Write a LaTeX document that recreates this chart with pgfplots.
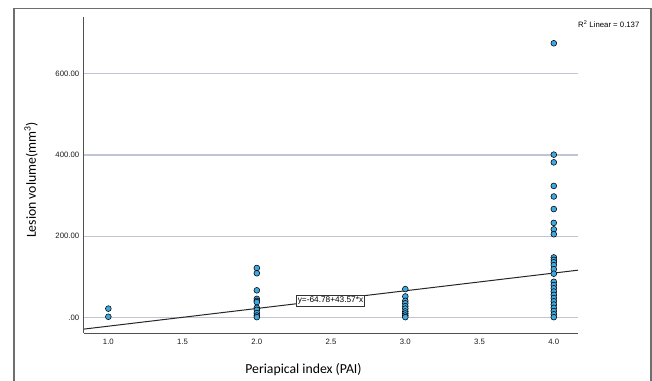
\documentclass[border=0pt]{standalone}
\usepackage{fontspec}
\setmainfont{Liberation Sans}
\newfontfamily\titlefont{Carlito}
\usepackage{pgfplots}
\pgfplotsset{compat=1.18}
\definecolor{ptblue}{RGB}{62,168,224}
\definecolor{gridcol}{RGB}{192,197,212}
\definecolor{axisgray}{RGB}{80,80,80}
\definecolor{framecol}{RGB}{110,110,110}
\begin{document}
\begin{tikzpicture}
\begin{axis}[
  name=ax,
  at={(0,0)}, anchor=south west,
  scale only axis, width=494bp, height=315.7bp,
  xmin=0.836, xmax=4.163, ymin=-38, ymax=739,
  axis x line*=bottom, axis y line*=left,
  axis line style={draw=axisgray, line width=1bp, -},
  xtick={1,1.5,2,2.5,3,3.5,4},
  xticklabels={1.0,1.5,2.0,2.5,3.0,3.5,4.0},
  ytick={0,200,400,600},
  yticklabels={.00,200.00,400.00,600.00},
  ymajorgrids, grid style={gridcol, line width=1.2bp},
  major tick length=0pt,
  tick label style={font=\fontsize{7.8}{9}\selectfont, text=black!90},
  xticklabel style={anchor=north, inner sep=0pt, yshift=-6bp},
  yticklabel style={anchor=east, inner sep=0pt, xshift=-4.6bp},
  xlabel={Periapical index (PAI)},
  ylabel={Lesion volume(mm\textsuperscript{3})},
  label style={font=\titlefont\fontsize{13.8}{16}\selectfont},
  xlabel style={at={(axis description cs:0.4443,-0.1172)}, anchor=center},
  ylabel style={at={(axis description cs:-0.1073,0.4846)}, anchor=center},
]
\addplot[black!85, line width=1bp] coordinates {(0.836,-28.36) (4.163,116.60)};
\addplot[only marks, mark=*, mark size=2.9bp, mark options={fill=ptblue, draw=black, line width=0.55bp}] coordinates {
(1,2) (1,22)
(2,122) (2,109) (2,67) (2,46) (2,41) (2,38) (2,24) (2,19) (2,11) (2,5) (2,1)
(3,70) (3,52) (3,41) (3,35) (3,28) (3,22) (3,15) (3,10) (3,5) (3,1)
(4,675) (4,401) (4,382) (4,324) (4,298) (4,267) (4,233) (4,217) (4,205)
(4,148) (4,142) (4,136) (4,129) (4,119) (4,108)
(4,88) (4,80) (4,72) (4,64) (4,56) (4,48) (4,40) (4,32) (4,24) (4,16) (4,8) (4,1)
};
\end{axis}
\node[draw=black!80, fill=white, inner sep=1.7bp, line width=0.7bp, font=\fontsize{8.3}{9.6}\selectfont] at (ax.south west) [xshift=246.5bp, yshift=32.1bp] {y=-64.78+43.57*x};
\node[anchor=west, inner sep=0pt, font=\fontsize{7.8}{9}\selectfont] at (494bp,309bp) {R\textsuperscript{2} Linear = 0.137};
\draw[framecol, line width=1.3bp] (-70bp,-48bp) -- (-70bp,324.7bp) -- (567bp,324.7bp) -- (567bp,-48bp);
\pgfresetboundingbox
\useasboundingbox (-84bp,-48bp) rectangle (568bp,333bp);
\end{tikzpicture}
\end{document}
